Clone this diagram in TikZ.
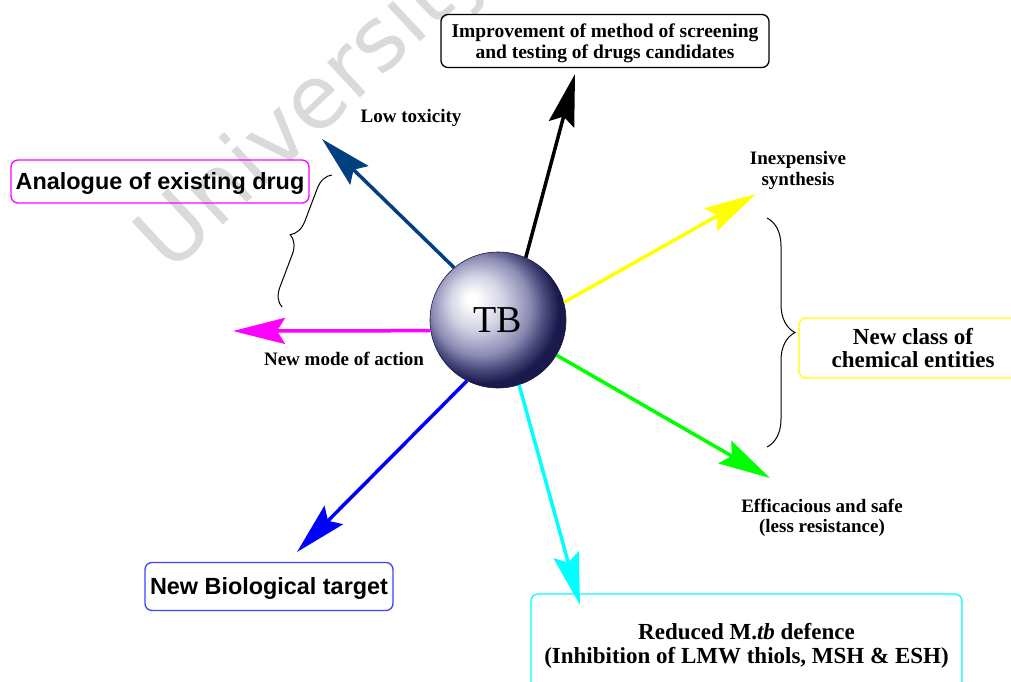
\documentclass[tikz,border=0pt]{standalone}
\usepackage{fontspec}
\setmainfont{Liberation Serif}
\newfontfamily\arialf{Liberation Sans}
\newfontfamily\wmfont{DejaVu Sans}
\usetikzlibrary{arrows.meta,decorations.pathreplacing}
\definecolor{navyarr}{RGB}{0,64,128}
\definecolor{tblav}{RGB}{210,210,228}
\definecolor{tbmid}{RGB}{140,140,180}
\definecolor{tbdeep}{RGB}{70,70,120}
\definecolor{tbdark}{RGB}{25,25,75}
\definecolor{wm}{RGB}{218,218,218}
\definecolor{bluebox}{RGB}{64,64,255}
\definecolor{cmag}{RGB}{255,0,255}
\definecolor{ccyan}{RGB}{0,255,255}
\definecolor{cyel}{RGB}{255,255,0}
\definecolor{cgreen}{RGB}{0,255,0}
\definecolor{cblue}{RGB}{0,0,255}
\pgfdeclareradialshading{tbball}{\pgfqpoint{-10bp}{8bp}}{color(0bp)=(white); color(2bp)=(white); color(10bp)=(tblav); color(18bp)=(tbmid); color(23bp)=(tbdeep); color(27bp)=(tbdark); color(50bp)=(tbdark)}
\begin{document}
\begin{tikzpicture}[x=1pt,y=-1pt,
  lbl/.style={font=\bfseries\fontsize{19}{21}\selectfont, align=center, inner sep=0pt},
  rbox/.style={draw, rounded corners=7pt, line width=1.3pt, align=center, inner sep=0pt, text depth=0pt},
  serifbox/.style={rbox, font=\bfseries\fontsize{23}{23.5}\selectfont},
  sansbox/.style={rbox, font=\arialf\bfseries\fontsize{23.4}{26}\selectfont},
  arr/.style={line width=3.5pt, -{Stealth[length=52pt,width=26pt,inset=8pt]}},
  brc/.style={decorate, line width=1pt},
]
\useasboundingbox (0,0) rectangle (1011,682);
\clip (0,0) rectangle (1011,682);

% watermark
\node[rotate=43, anchor=base, text=wm, font=\wmfont\fontsize{88}{88}\selectfont, inner sep=0pt] (wmk) at (333,123) {University};

% central sphere
\node[circle, minimum size=136pt, inner sep=0pt, shading=tbball, draw=tbdark, line width=0.6pt,
      font=\fontsize{38}{40}\selectfont] (tb) at (498,320) {TB};

% boxes
\node[rbox, draw=black, font=\bfseries\fontsize{19.5}{21}\selectfont,
      minimum width=328pt, minimum height=53pt] (imp) at (605,41)
      {Improvement of method of screening\\and testing of drugs candidates};
\node[sansbox, draw=cmag, minimum width=298pt, minimum height=43pt] (ana) at (160,181.5) {Analogue of existing drug};
\node[serifbox, draw=cyel, minimum width=228pt, minimum height=60pt] (ncl) at (913,348) {New class of\\chemical entities};
\node[serifbox, draw=ccyan, minimum width=431pt, minimum height=99pt] (red) at (746.5,643.5)
      {Reduced M.\textit{tb} defence\\(Inhibition of LMW thiols, MSH \& ESH)};
\node[sansbox, draw=bluebox, minimum width=248pt, minimum height=48pt] (nbt) at (269,586.5) {New Biological target};

% labels
\node[lbl] (low) at (411,118) {Low toxicity};
\node[lbl] (inx) at (798,170) {Inexpensive\\synthesis};
\node[lbl] (nmo) at (344,359) {New mode of action};
\node[lbl, font=\bfseries\fontsize{19}{20}\selectfont] (eff) at (822,518) {Efficacious and safe\\(less resistance)};

% arrow tips
\coordinate (tBlack) at (575,74);
\coordinate (tNavy) at (322,139);
\coordinate (tYellow) at (756,194);
\coordinate (tMag) at (233,331);
\coordinate (tGreen) at (770,478);
\coordinate (tCyan) at (580,605);
\coordinate (tBlue) at (297,552);

\draw[arr, draw=black] (tb.66) -- (tBlack);
\draw[arr, draw=navyarr] (tb.130) -- (tNavy);
\draw[arr, draw=cyel] (tb.15) -- (tYellow);
\draw[arr, draw=cmag] (tb.189) -- (tMag);
\draw[arr, draw=cgreen] (tb.329) -- (tGreen);
\draw[arr, draw=ccyan] (tb.288) -- (tCyan);
\draw[arr, draw=cblue] (tb.243) -- (tBlue);

% braces
\coordinate (lbTop) at (332,175);
\coordinate (lbBot) at (282,307);
\draw[brc, decoration={brace, amplitude=18pt}] (lbBot) -- (lbTop);
\coordinate (rbTop) at (767,218);
\coordinate (rbBot) at (767,447);
\draw[brc, decoration={brace, amplitude=28pt}] (rbTop) -- (rbBot);
\end{tikzpicture}
\end{document}
